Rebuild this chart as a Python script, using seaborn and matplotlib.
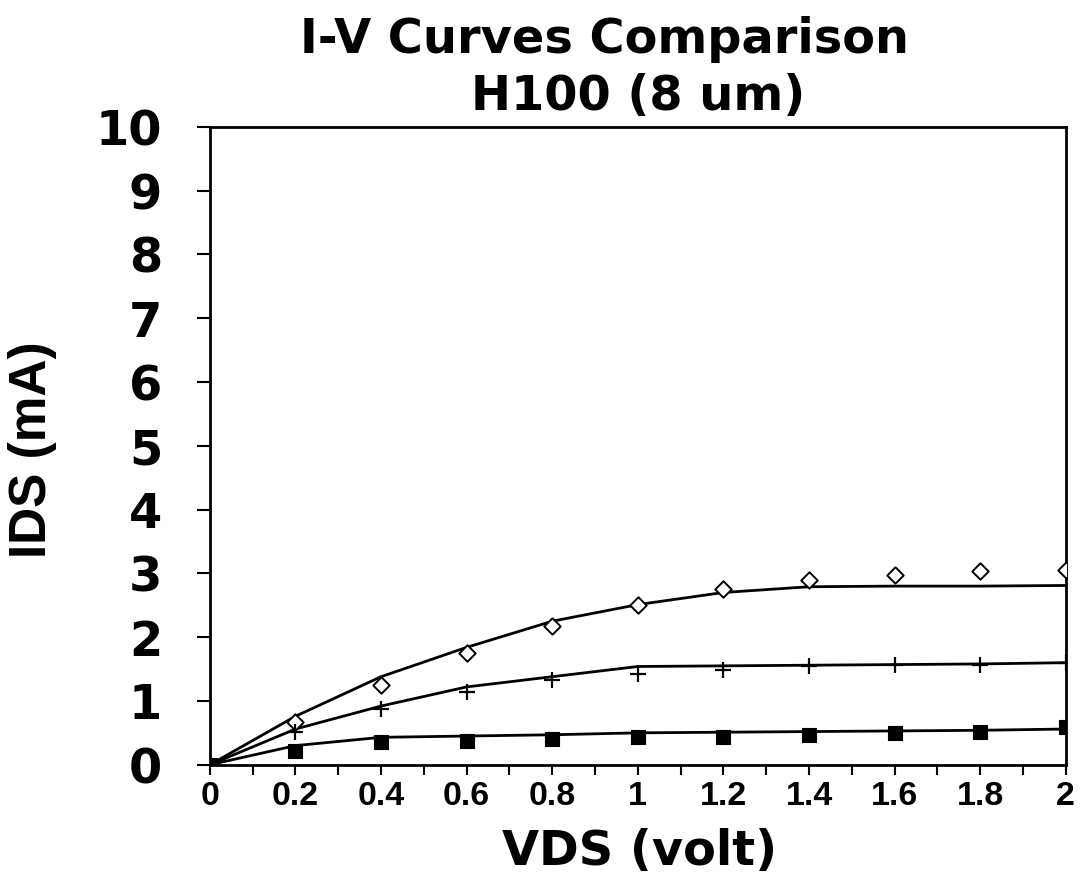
import numpy as np
import pandas as pd
import matplotlib
matplotlib.use("Agg")
import matplotlib.pyplot as plt
import seaborn as sns
from matplotlib.ticker import MultipleLocator, FuncFormatter

# Drain voltage sweep (V)
vds = [0.0, 0.2, 0.4, 0.6, 0.8, 1.0, 1.2, 1.4, 1.6, 1.8, 2.0]

# Measured drain current (mA) for three gate biases
meas_high = [0.0, 0.67, 1.25, 1.75, 2.17, 2.51, 2.75, 2.90, 2.98, 3.03, 3.06]
meas_mid = [0.0, 0.51, 0.87, 1.14, 1.33, 1.43, 1.49, 1.54, 1.56, 1.56, 1.59]
meas_low = [0.0, 0.21, 0.35, 0.37, 0.40, 0.43, 0.43, 0.46, 0.49, 0.52, 0.59]

# Simulated drain current (mA)
sim_high = [0.0, 0.76, 1.38, 1.84, 2.25, 2.51, 2.70, 2.79, 2.80, 2.80, 2.81]
sim_mid = [0.0, 0.56, 0.92, 1.22, 1.38, 1.54, 1.55, 1.56, 1.57, 1.58, 1.60]
sim_low = [0.0, 0.30, 0.43, 0.45, 0.47, 0.50, 0.51, 0.52, 0.53, 0.54, 0.56]

x_ticks = [0, 0.2, 0.4, 0.6, 0.8, 1.0, 1.2, 1.4, 1.6, 1.8, 2.0]
y_ticks = list(range(0, 11))

sns.set_theme(style="ticks")
plt.rcParams["font.family"] = ["Liberation Sans", "DejaVu Sans"]
for key in ["text.color", "axes.labelcolor", "xtick.color", "ytick.color", "axes.edgecolor"]:
    plt.rcParams[key] = "black"

sim = pd.DataFrame({
    "VDS": vds * 3,
    "IDS": sim_high + sim_mid + sim_low,
    "curve": ["high"] * len(vds) + ["mid"] * len(vds) + ["low"] * len(vds),
})

fig = plt.figure(figsize=(10.82, 8.74), dpi=100)
ax = fig.add_axes([0.194, 0.125, 0.791, 0.730])

sns.lineplot(data=sim, x="VDS", y="IDS", units="curve", estimator=None,
             color="black", linewidth=2.0, ax=ax, legend=False)

sns.scatterplot(x=vds[1:], y=meas_high[1:], marker="D", s=70,
                facecolor="white", edgecolor="black", linewidth=1.4, ax=ax, zorder=3)
sns.scatterplot(x=vds[1:], y=meas_mid[1:], marker="+", s=120,
                color="black", linewidth=1.6, ax=ax, zorder=3)
sns.scatterplot(x=vds, y=meas_low, marker="s", s=100,
                color="black", edgecolor="black", ax=ax, zorder=3)

ax.set_xlim(0, 2)
ax.set_ylim(0, 10)
ax.set_xticks(x_ticks)
ax.xaxis.set_minor_locator(MultipleLocator(0.1))
ax.set_yticks(y_ticks)
ax.xaxis.set_major_formatter(FuncFormatter(lambda v, p: f"{v:g}"))

for side in ["top", "right", "bottom", "left"]:
    ax.spines[side].set_visible(True)
    ax.spines[side].set_color("black")
    ax.spines[side].set_linewidth(2.0)

ax.tick_params(axis="x", which="both", direction="out", length=7, width=1.5,
               color="black", pad=5)
ax.tick_params(axis="x", which="major", labelsize=24.5)
ax.tick_params(axis="y", which="major", direction="out", length=9.4, width=1.5,
               color="black", pad=25)
for lab in ax.get_xticklabels():
    lab.set_fontweight("bold")
for lab in ax.get_yticklabels():
    lab.set_fontfamily("DejaVu Sans")
    lab.set_fontweight("bold")
    lab.set_fontsize(34.5)

ax.set_xlabel("")
ax.set_ylabel("")

fig.text(640 / 1082, 1 - 865 / 874, "VDS (volt)", ha="center", va="baseline",
         fontsize=34.5, fontweight="bold", family="DejaVu Sans")
fig.text(33 / 1082, 1 - 450 / 874, "IDS (mA)", ha="center", va="center",
         rotation=90, fontsize=37, fontweight="bold")

fig.text(604 / 1082, 1 - 53 / 874, "I-V Curves Comparison", ha="center",
         va="baseline", fontsize=34.5, fontweight="bold", family="DejaVu Sans")
fig.text(638 / 1082, 1 - 110 / 874, "H100 (8 um)", ha="center",
         va="baseline", fontsize=34.5, fontweight="bold", family="DejaVu Sans")

fig.savefig("out.png", dpi=100, facecolor="white")
